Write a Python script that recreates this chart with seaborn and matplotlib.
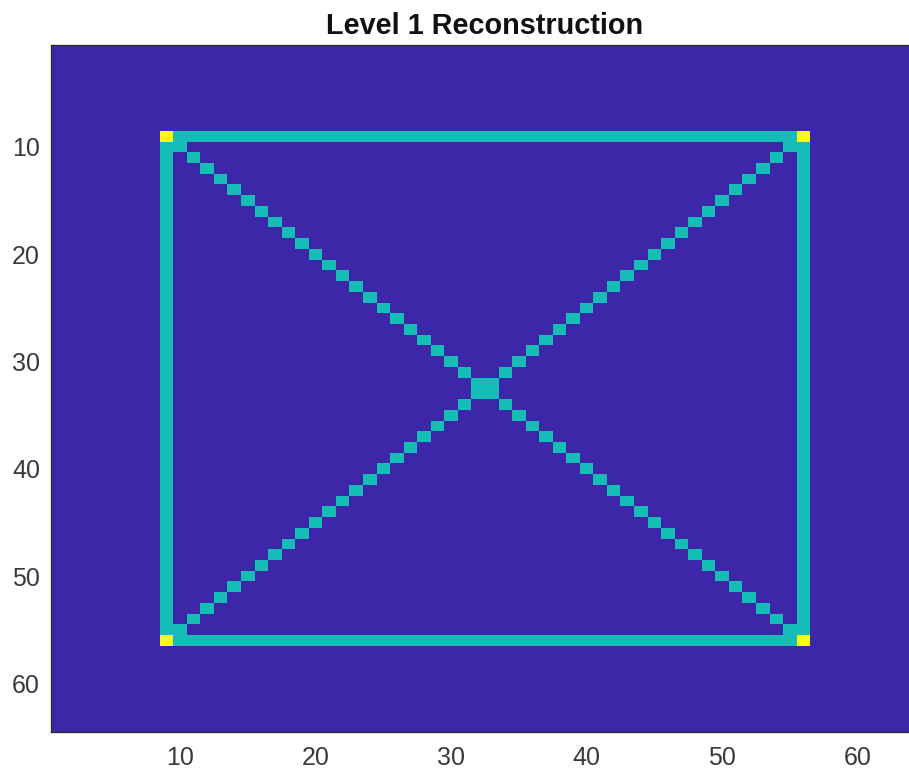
import numpy as np
import seaborn as sns
import matplotlib.pyplot as plt
from matplotlib.colors import ListedColormap

# image description (MATLAB 1-based pixel indices)
grid_size = 64
box_lo = 9
box_hi = 56
background_value = 0
line_value = 1
corner_value = 2
tick_values = [10, 20, 30, 40, 50, 60]
title_text = "Level 1 Reconstruction"

# parula-like colours for the three levels
level_colors = ["#3E26A8", "#15BDB6", "#F9FB15"]


def build_image():
    img = np.full((grid_size, grid_size), background_value, dtype=float)
    lo, hi = box_lo - 1, box_hi - 1
    # box outline
    img[lo, lo:hi + 1] = line_value
    img[hi, lo:hi + 1] = line_value
    img[lo:hi + 1, lo] = line_value
    img[lo:hi + 1, hi] = line_value
    # the two diagonals inside the box
    for k in range(lo + 1, hi):
        img[k, k] = line_value
        img[k, lo + hi - k] = line_value
    # corners
    for r in (lo, hi):
        for c in (lo, hi):
            img[r, c] = corner_value
    return img


sns.set_style("white")
plt.rcParams['font.family'] = ['Liberation Sans', 'DejaVu Sans']

fig = plt.figure(figsize=(9.09, 7.74), dpi=100)
ax = fig.add_axes([51.2 / 909, 42.3 / 774, 867.5 / 909, 686.7 / 774])

img = build_image()
sns.heatmap(img, ax=ax, cmap=ListedColormap(level_colors), vmin=0, vmax=2,
            cbar=False, xticklabels=False, yticklabels=False)

ax.set_xticks([t - 0.5 for t in tick_values])
ax.set_xticklabels([str(t) for t in tick_values])
ax.set_yticks([t - 0.5 for t in tick_values])
ax.set_yticklabels([str(t) for t in tick_values], rotation=0)

edge = "#262626"
for side in ["left", "right", "top", "bottom"]:
    ax.spines[side].set_visible(True)
    ax.spines[side].set_color(edge)
    ax.spines[side].set_linewidth(0.9)
ax.tick_params(direction="in", length=5, width=0.9, color=edge, labelcolor="#3a3a3a",
               labelsize=18, top=True, right=True, bottom=True, left=True)
ax.tick_params(axis="x", pad=10)
ax.tick_params(axis="y", pad=8)

ax.set_title(title_text, fontsize=20.8, fontweight="bold", color="#111111", pad=8)

fig.savefig("out.png", dpi=100)
